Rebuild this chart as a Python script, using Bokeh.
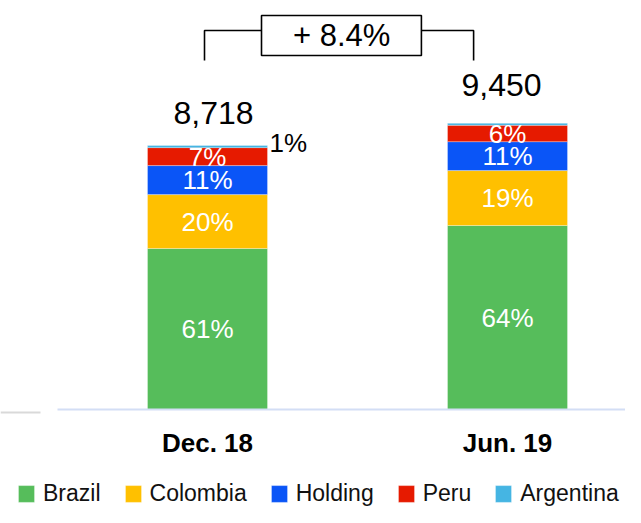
from bokeh.plotting import figure
from bokeh.models import Range1d, LinearAxis, FixedTicker, Legend, LegendItem, ColumnDataSource
from bokeh.core.properties import value
from bokeh.embed import file_html
from bokeh.resources import INLINE

# ---- data ----
periods = ["Dec. 18", "Jun. 19"]
totals = [8718, 9450]
regions = ["Brazil", "Colombia", "Holding", "Peru", "Argentina"]
colors = ["#56BD5B", "#FFC000", "#0A55F7", "#E61A00", "#45B5E3"]
share_dec = [61.0, 20.4, 11.0, 6.8, 0.8]
share_jun = [64.3, 19.2, 10.1, 5.7, 0.7]
labels_dec = ["61%", "20%", "11%", "7%", "1%"]
labels_jun = ["64%", "19%", "11%", "6%", ""]
growth_text = "+ 8.4%"

shares = [share_dec, share_jun]
seg_labels = [labels_dec, labels_jun]
xs = list(range(len(periods)))

FONT = "Liberation Sans"
X0, X1 = -0.69, 1.3933
BAR_W = 0.4

data = {"x": xs}
for j, r in enumerate(regions):
    data[r] = [totals[i] * shares[i][j] / 100.0 for i in xs]
src = ColumnDataSource(data)

p = figure(width=625, height=507, x_range=Range1d(X0, X1), y_range=Range1d(-3236, 13507),
           x_axis_type=None, y_axis_type=None, min_border=0, outline_line_color=None,
           toolbar_location=None, output_backend="svg")

rends = p.vbar_stack(regions, x="x", width=BAR_W, color=colors, source=src,
                     line_color="white", line_width=0.6, line_alpha=0.5)

# segment labels
lx, ly, lt = [], [], []
ax_, ay_, at_ = [], [], []
for i in xs:
    bottom = 0.0
    for j, r in enumerate(regions):
        v = data[r][i]
        lab = seg_labels[i][j]
        if lab:
            if j < len(regions) - 1:
                lx.append(i); ly.append(bottom + v / 2.0); lt.append(lab)
            else:
                ax_.append(i + BAR_W / 2); ay_.append(totals[i]); at_.append(lab)
        bottom += v

p.text(x=lx, y=ly, text=lt, text_color="white", text_font=value(FONT), text_font_size="26px",
       text_align="center", text_baseline="middle")
p.text(x=ax_, y=ay_, text=at_, text_color="black", text_font=value(FONT), text_font_size="26px",
       text_align="left", text_baseline="middle", x_offset=2, y_offset=-3)

# totals
p.text(x=xs, y=totals, text=[f"{t:,}" for t in totals], text_color="black",
       text_font=value(FONT), text_font_size="32px", text_align="center",
       text_baseline="alphabetic", x_offset=[6, -6], y_offset=[-33, -38])

# growth bracket
by_top, by_bot = 12517, 11526
p.line(x=[-0.01, -0.01, 0.18], y=[by_bot, by_top, by_top], line_color="black", line_width=1.6)
p.line(x=[0.713, 0.887, 0.887], y=[by_top, by_top, by_bot], line_color="black", line_width=1.6)
p.quad(left=[0.18], right=[0.713], top=[13012], bottom=[11691], fill_color="white",
       line_color="black", line_width=1.6)
p.text(x=[0.447], y=[12350], text=[growth_text], text_color="black", text_font=value(FONT),
       text_font_size="31px", text_align="center", text_baseline="middle")

# category axis
ax = LinearAxis(fixed_location=0, ticker=FixedTicker(ticks=xs),
                major_label_overrides={i: periods[i] for i in xs},
                bounds=(-0.5, X1), axis_line_color="#D3DEF5", axis_line_width=2,
                major_tick_line_color=None, minor_tick_line_color=None,
                major_label_standoff=12, major_label_text_font_size="26px",
                major_label_text_font_style="bold", major_label_text_font=FONT,
                major_label_text_color="black")
p.add_layout(ax, "below")

ax2 = LinearAxis(fixed_location=-83, ticker=FixedTicker(ticks=[]), bounds=(X0, -0.557),
                 axis_line_color="#D9D9D9", axis_line_width=2,
                 major_tick_line_color=None, minor_tick_line_color=None,
                 major_label_text_font_size="0px")
p.add_layout(ax2, "below")

legend = Legend(items=[LegendItem(label=r, renderers=[rends[j]]) for j, r in enumerate(regions)],
                orientation="horizontal", location=(16, 0), padding=0, margin=0,
                spacing=22, label_standoff=7, glyph_width=20, glyph_height=21,
                label_text_font_size="23px", label_text_font=FONT, label_text_color="#111111",
                border_line_color=None, background_fill_alpha=0)
p.add_layout(legend)

open("out.html", "w").write(file_html(p, INLINE))
